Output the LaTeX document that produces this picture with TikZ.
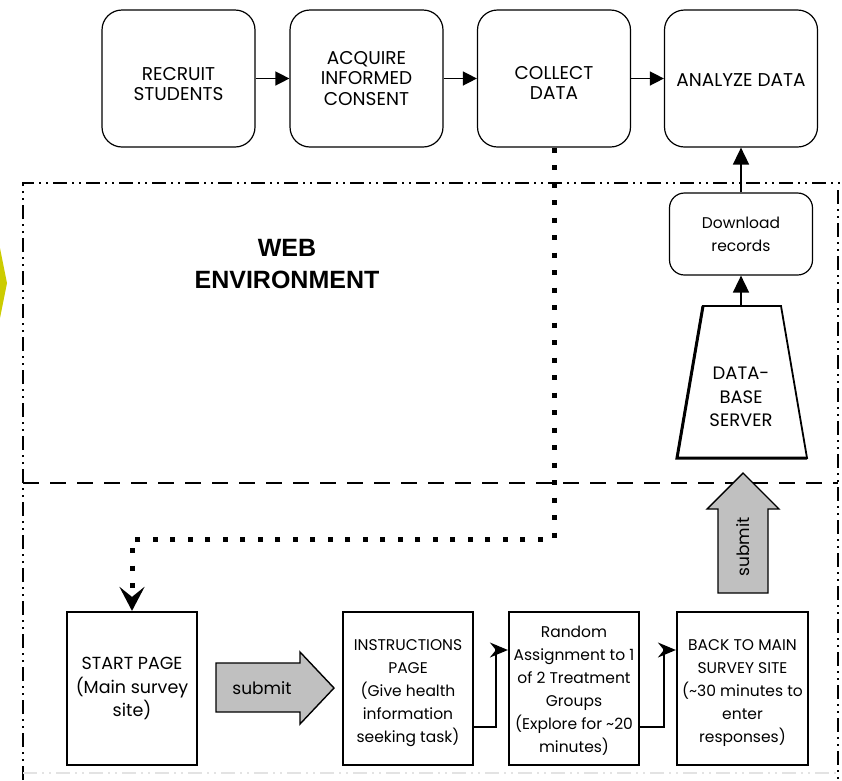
\documentclass[tikz,border=0pt]{standalone}
\usepackage{fontspec}
\setmainfont{Poppins}
\newfontfamily\webfont{Liberation Sans}
\usetikzlibrary{arrows.meta}
\definecolor{subgray}{RGB}{192,192,192}
\definecolor{yel}{RGB}{204,204,0}
\newcommand\lowerbox[2]{\raisebox{-#1}[\height][\depth]{\begin{tabular}{@{}c@{}}#2\end{tabular}}}
\begin{document}
\begin{tikzpicture}[x=1pt,y=-1pt,
  topbox/.style={draw, line width=1.2pt, rounded corners=20pt, minimum width=153pt, minimum height=137pt, align=center, inner sep=0pt, font=\fontsize{18.5}{20.5}\selectfont},
  botbox/.style={draw, line width=2.2pt, minimum width=130pt, minimum height=153pt, align=center, inner sep=0pt, font=\fontsize{15.5}{23}\selectfont},
  toparrow/.style={line width=1.4pt, -{Triangle[length=14pt,width=14pt]}},
  vertarrow/.style={line width=1.6pt, -{Triangle[length=17pt,width=16pt]}},
  smallarrow/.style={line width=1.3pt, -{Stealth[length=18pt,width=15pt,inset=6pt]}},
  dotline/.style={line width=5pt, dash pattern=on 5pt off 12.5pt},
  dashdotdot/.style={line width=1.4pt, dash pattern=on 14pt off 5pt on 2pt off 5pt on 2pt off 5pt},
  subarrow/.style={draw, line width=1.4pt, fill=subgray},
  subtext/.style={font=\fontsize{17}{20}\selectfont}
]
\useasboundingbox (0,0) rectangle (842,780);
% yellow fragment
\fill[yel] (0,248) -- (7,283) -- (0,318) -- cycle;
% frame
\draw[dashdotdot] (23,780) -- (23,183) -- (842,183);
\draw[dashdotdot] (838,190) -- (838,780);
\draw[dashdotdot, draw=gray!22] (23,773) -- (838,773);
\draw[line width=1.4pt, dash pattern=on 16pt off 11pt] (23,483) -- (838,483);
% top row
\node[topbox] (recruit) at (178.5,78.5) {\lowerbox{8pt}{RECRUIT\\STUDENTS}};
\node[topbox] (acquire) at (366.5,78.5) {\lowerbox{2pt}{ACQUIRE\\INFORMED\\CONSENT}};
\node[topbox] (collect) at (554,78.5) {\lowerbox{7pt}{COLLECT\\DATA}};
\node[topbox] (analyze) at (741,78.5) {\lowerbox{4pt}{ANALYZE DATA}};
\draw[toparrow] (recruit) -- (acquire);
\draw[toparrow] (acquire) -- (collect);
\draw[toparrow] (collect) -- (analyze);
% web environment
\node[font=\webfont\bfseries\fontsize{25}{32}\selectfont, align=center] (web) at (287,264) {WEB\\ENVIRONMENT};
% download and database
\node[draw, line width=1.2pt, rounded corners=15pt, minimum width=143pt, minimum height=82pt, align=center, inner sep=0pt, font=\fontsize{15.5}{23}\selectfont] (download) at (741,234) {Download\\records};
\draw[line width=1.8pt, line join=miter] (703,306) -- (781,306) -- (807,458) -- (677,458) -- cycle;
\draw[line width=3pt, line join=miter] (703,306) -- (677,458) -- (807,458);
\coordinate (dbtop) at (741,306);
\node[align=center, font=\fontsize{18}{23.5}\selectfont] (db) at (741,397) {DATA-\\BASE\\SERVER};
\draw[vertarrow] (dbtop) -- (download.south);
\draw[vertarrow] (download.north) -- (analyze.south);
% bottom row
\node[botbox, font=\fontsize{17.5}{23.5}\selectfont] (start) at (132,688.5) {START PAGE\\(Main survey\\site)};
\node[botbox] (instr) at (408,688.5) {\lowerbox{3pt}{INSTRUCTIONS\\PAGE\\(Give health\\information\\seeking task)}};
\node[botbox] (random) at (574,688.5) {\lowerbox{2pt}{Random\\Assignment to 1\\of 2 Treatment\\Groups\\(Explore for \textasciitilde 20\\minutes)}};
\node[botbox, minimum width=131pt] (back) at (742.5,688.5) {\lowerbox{3pt}{BACK TO MAIN\\SURVEY SITE\\(\textasciitilde 30 minutes to\\enter\\responses)}};
% dotted connector
\coordinate (turn) at (554,539);
\draw[dotline, -{Stealth[length=24pt,width=25pt,inset=10pt]}] (collect.south) -- (turn) -| (start.north);
% small connectors
\draw[smallarrow] ([yshift=-38.5pt]instr.east) -- ++(22,0) |- ([yshift=38.5pt]random.west);
\draw[smallarrow] ([yshift=-38.5pt]random.east) -- ++(24,0) |- ([yshift=38.5pt]back.west);
% submit arrows
\draw[subarrow] (216,663) -- (300,663) -- (300,652) -- (334,688) -- (300,724) -- (300,712) -- (216,712) -- cycle;
\node[subtext] (sub1) at (262,688) {submit};
\draw[subarrow] (718,593) -- (768,593) -- (768,509) -- (779,509) -- (743,473) -- (707,509) -- (718,509) -- cycle;
\node[subtext, rotate=90] (sub2) at (743,547) {submit};
\end{tikzpicture}
\end{document}
